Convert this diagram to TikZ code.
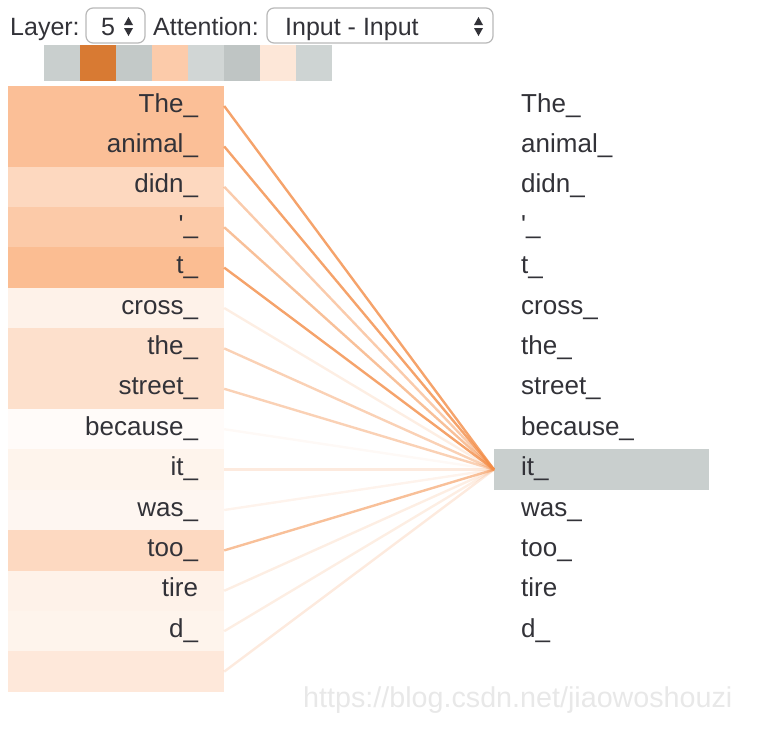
\documentclass[tikz,border=0pt]{standalone}
\usepackage{fontspec}
\setmainfont{Liberation Sans}
\usetikzlibrary{positioning}

\definecolor{txt}{RGB}{50,50,56}
\definecolor{attn}{RGB}{249,160,100}
\definecolor{attnline}{RGB}{243,140,70}
\definecolor{selgray}{RGB}{201,207,206}
\definecolor{darkattn}{RGB}{216,122,51}

\tikzset{
  hdr/.style={inner sep=0, text=txt, font=\fontsize{25}{30}\selectfont},
  selbox/.style={draw=gray!55, line width=1.2, rounded corners=7, minimum height=35, fill=white},
  lefttok/.style={minimum width=216, minimum height=40.4, inner xsep=26, inner ysep=0,
    text width=164, align=right, text height=18, text depth=6, text=txt,
    font=\fontsize{26}{30}\selectfont},
  righttok/.style={lefttok, anchor=west, minimum width=215, inner xsep=27,
    text width=161, align=left},
  attnedge/.style={draw=attnline, line width=2.4},
  updown/.style={fill=txt}
}

\begin{document}
\begin{tikzpicture}[x=1pt, y=-1pt]
 \useasboundingbox (0,0) rectangle (770,736);

 % header
 \node[hdr, anchor=base west] (layerlbl) at (10,35) {Layer:};
 \node[selbox, minimum width=59] (layersel) at (115.5,25.5) {};
 \node[hdr, anchor=base west] (layerval) at (101,35) {5};
 \fill[updown] (124,25) -- (128.5,17) -- (133,25) -- cycle;
 \fill[updown] (124,28) -- (128.5,36) -- (133,28) -- cycle;
 \node[hdr, anchor=base west] (attnlbl) at (153,35) {Attention:};
 \node[selbox, minimum width=226] (attnsel) at (380,25.5) {};
 \node[hdr, anchor=base west] (attnval) at (285,35) {Input - Input};
 \fill[updown] (474,25) -- (478.5,17) -- (483,25) -- cycle;
 \fill[updown] (474,28) -- (478.5,36) -- (483,28) -- cycle;

 % heads
 \foreach \c [count=\k] in {selgray, darkattn, selgray!97!black, attn!55!white,
                           selgray!85!white, selgray!95!black, attn!25!white, selgray!90!white}
   \fill[\c] ({44+36*(\k-1)},45) rectangle ({80+36*(\k-1)},81);

 % tokens
 \foreach \w/\p [count=\i] in {The\_/67, animal\_/67, didn\_/41, \textquotesingle\_/56, t\_/70,
     cross\_/14, the\_/33, street\_/33, because\_/4, it\_/12, was\_/9, too\_/40,
     tire/14, d\_/12, {}/24}
   \node[lefttok, fill=attn!\p!white] (l\i) at (116,{106+40.4*(\i-1)}) {\w};

 \foreach \w/\s [count=\i] in {The\_/none, animal\_/none, didn\_/none, \textquotesingle\_/none,
     t\_/none, cross\_/none, the\_/none, street\_/none, because\_/none, it\_/selgray,
     was\_/none, too\_/none, tire/none, d\_/none}
   \node[righttok, fill=\s] (r\i) at (494,{106+40.4*(\i-1)}) {\w};

 % attention
 \foreach \i/\o in {1/.8, 2/.8, 3/.45, 4/.55, 5/.8, 6/.15, 7/.4, 8/.4,
                    9/.05, 10/.18, 11/.1, 12/.55, 13/.15, 14/.15, 15/.18}
   \draw[attnedge, draw opacity=\o] (l\i.east) -- (r10.west);

 \node[anchor=base west, inner sep=0, text=black!9,
       font=\fontsize{28.7}{32}\selectfont] (mark) at (303,707) {https://blog.csdn.net/jiaowoshouzi};
\end{tikzpicture}
\end{document}
